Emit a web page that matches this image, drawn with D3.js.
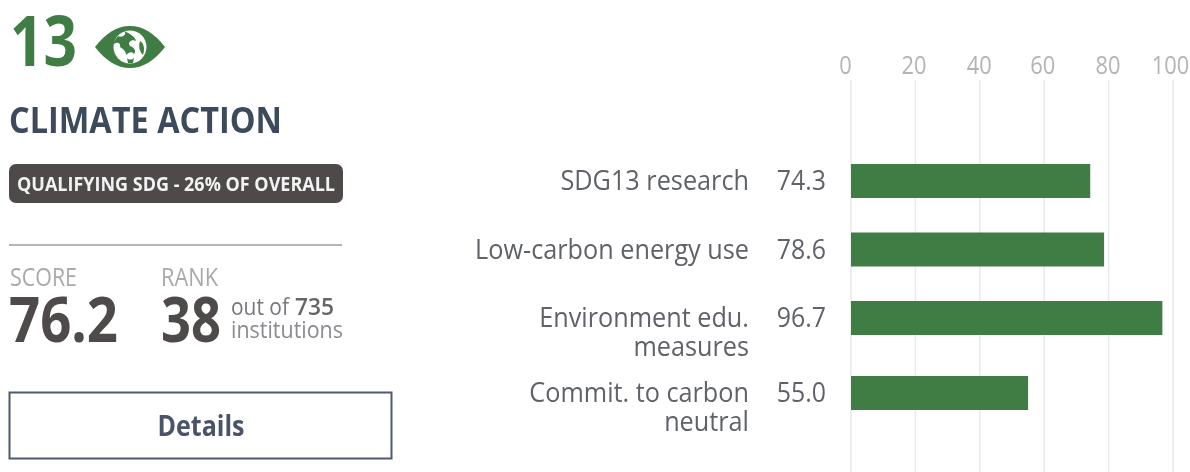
<!DOCTYPE html>
<html>
<head>
<meta charset="utf-8">
<title>Climate Action</title>
<script src="https://cdn.jsdelivr.net/npm/d3@7"></script>
<style>
  html, body { margin: 0; padding: 0; background: #fff; }
  svg { display: block; filter: blur(0.5px); }
  text { font-family: "Open Sans", sans-serif; }
</style>
</head>
<body>
<svg id="chart" width="1190" height="472"></svg>
<script>
// Dados
const categories = ["SDG13 research", "Low-carbon energy use", "Environment edu. measures", "Commit. to carbon neutral"];
const labelLines = [["SDG13 research"], ["Low-carbon energy use"], ["Environment edu.", "measures"], ["Commit. to carbon", "neutral"]];
const scores = [74.3, 78.6, 96.7, 55.0];
const xTicks = [0, 20, 40, 60, 80, 100];

const green = "#3f7d45";
const dark = "#4f4a4a";
const grey = "#a9a9a9";
const labelGrey = "#5f6268";

const svg = d3.select("#chart");

// A imagem original esta esticada na vertical, entao o texto e comprimido na horizontal
function squeeze(sel, factor) {
  sel.each(function () {
    d3.select(this)
      .attr("textLength", this.getComputedTextLength() * factor)
      .attr("lengthAdjust", "spacingAndGlyphs");
  });
  return sel;
}

// Painel da esquerda
function addText(x, y, str, size, weight, fill, width, anchor) {
  const t = svg.append("text")
    .attr("x", x).attr("y", y)
    .attr("font-size", size)
    .attr("font-weight", weight)
    .attr("fill", fill)
    .attr("text-anchor", anchor || "start")
    .text(str);
  if (width) t.attr("textLength", width).attr("lengthAdjust", "spacingAndGlyphs");
  return t;
}

addText(10, 66, "13", 70, 700, green, 67);

// Icone do olho com o globo
const eye = svg.append("g").attr("transform", "translate(130,47)");
eye.append("path")
  .attr("d", "M-35,0 C-24,-14 -13,-21 0,-21 C13,-21 24,-14 35,0 C24,14 13,21 0,21 C-13,21 -24,14 -35,0 Z")
  .attr("fill", green);
eye.append("circle").attr("r", 16.5).attr("fill", "#fff");
eye.append("path")
  .attr("d", "M-6,-16 C-2,-12 -9,-9 -12,-11 C-14,-8 -17,-5 -16,-3 C-12,-6 -9,-3 -10,0 C-7,2 -4,4 -4,8 C-1,5 2,4 4,7 C7,3 3,0 0,-1 C-3,-5 2,-8 6,-6 C5,-10 1,-13 -6,-16 Z M10,-6 C14,-4 15,2 13,8 C10,5 8,0 10,-6 Z M-3,11 C-1,13 2,13 4,11 L3,16 L-2,16 Z")
  .attr("fill", green);

addText(9, 133, "CLIMATE ACTION", 35, 700, "#3d4a5c", 273);

svg.append("rect")
  .attr("x", 9).attr("y", 164).attr("width", 334).attr("height", 39).attr("rx", 7)
  .attr("fill", dark);
addText(17, 191, "QUALIFYING SDG - 26% OF OVERALL", 20, 700, "#f2f2f2", 318);

svg.append("line")
  .attr("x1", 9).attr("x2", 342).attr("y1", 245).attr("y2", 245)
  .attr("stroke", "#b5b5b5").attr("stroke-width", 2);

addText(10, 286, "SCORE", 25, 400, grey, 67);
addText(161, 286, "RANK", 25, 400, grey, 57);
addText(9, 342, "76.2", 63, 700, dark, 109);
addText(161, 342, "38", 63, 700, dark, 60);
addText(231, 315, "out of", 23, 400, "#77777d", 58);
addText(295, 315, "735", 23, 600, "#666", 39);
addText(231, 338, "institutions", 23, 400, "#8a8a90", 112);

svg.append("rect")
  .attr("x", 9.5).attr("y", 392.5).attr("width", 382).attr("height", 66)
  .attr("fill", "#fff").attr("stroke", "#4e5a70").attr("stroke-width", 2);
addText(201, 436, "Details", 28, 700, "#49536a", 87, "middle");

// Escala horizontal das notas
const x = d3.scaleLinear().domain([0, 100]).range([851, 1173]);

// Cada linha ocupa mais espaco quando o rotulo quebra em duas
let rowTop = 164;
const rowTops = labelLines.map(lines => {
  const t = rowTop;
  rowTop += lines.length > 1 ? 75 : 68.5;
  return t;
});
const y = d3.scaleOrdinal().domain(categories).range(rowTops);
const barHeight = 34;

// Eixo superior com linhas de grade
const axis = svg.append("g")
  .attr("transform", "translate(0,77)")
  .call(d3.axisTop(x).tickValues(xTicks).tickSize(0).tickPadding(3));
axis.select(".domain").remove();
axis.selectAll("text")
  .attr("font-size", 26)
  .attr("fill", "#b3b3b3")
  .attr("font-family", '"Open Sans", sans-serif')
  .attr("dx", (d, i) => [-6, -2, -1, -2, -1, -3][i])
  .call(squeeze, 0.84);

svg.append("g").selectAll("line")
  .data(xTicks)
  .join("line")
  .attr("x1", d => x(d)).attr("x2", d => x(d))
  .attr("y1", 80).attr("y2", 472)
  .attr("stroke", "#e9e9e9").attr("stroke-width", 1.5);

// Barras
svg.append("g").selectAll("rect")
  .data(categories)
  .join("rect")
  .attr("x", x(0))
  .attr("y", d => y(d))
  .attr("width", (d, i) => x(scores[i]) - x(0))
  .attr("height", barHeight)
  .attr("fill", green);

// Valores
svg.append("g").selectAll("text")
  .data(categories)
  .join("text")
  .attr("x", 826)
  .attr("y", d => y(d) + 26)
  .attr("text-anchor", "end")
  .attr("font-size", 27)
  .attr("fill", labelGrey)
  .text((d, i) => scores[i].toFixed(1))
  .call(squeeze, 0.92);

// Rotulos das categorias, um texto por linha
svg.append("g").selectAll("g")
  .data(categories)
  .join("g")
  .selectAll("text")
  .data((d, i) => labelLines[i].map(line => ({ cat: d, line })))
  .join("text")
  .attr("x", 749)
  .attr("y", (d, i) => y(d.cat) + 26 + i * 29)
  .attr("text-anchor", "end")
  .attr("font-size", 27)
  .attr("fill", labelGrey)
  .text(d => d.line)
  .call(squeeze, 0.935);
</script>
</body>
</html>
